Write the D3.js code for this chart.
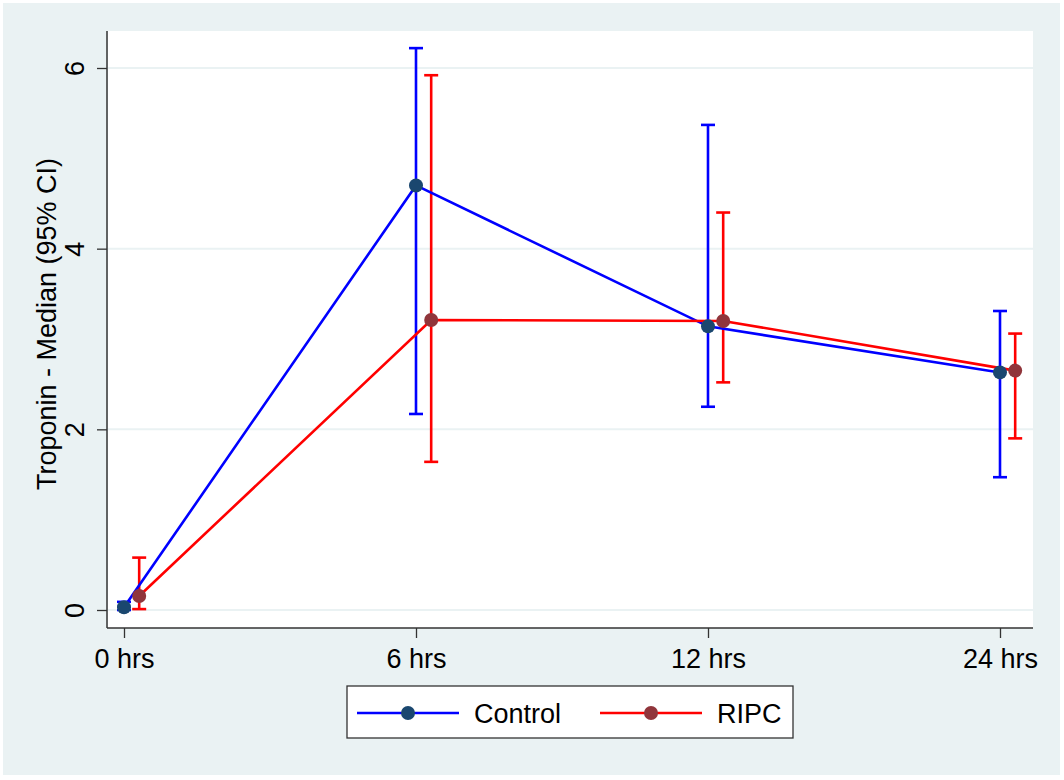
<!DOCTYPE html>
<html><head><meta charset="utf-8">
<script src="https://cdn.jsdelivr.net/npm/d3@7"></script>
<style>body{margin:0;background:#fff}svg{display:block}text{font-family:"Liberation Sans",Arial,sans-serif}</style>
</head><body>
<script>
const categories = ["0 hrs","6 hrs","12 hrs","24 hrs"];
const yTicks = [0,2,4,6];
const controlMedian = [0.03, 4.70, 3.14, 2.63];
const controlLow    = [0.00, 2.17, 2.25, 1.47];
const controlHigh   = [0.09, 6.22, 5.37, 3.31];
const ripcMedian = [0.155, 3.21, 3.20, 2.65];
const ripcLow    = [0.01, 1.64, 2.52, 1.90];
const ripcHigh   = [0.58, 5.92, 4.40, 3.06];
const seriesNames = ["Control","RIPC"];

const W=1064,H=780;
const svg=d3.select("body").append("svg").attr("width",W).attr("height",H);
svg.append("rect").attr("x",3).attr("y",3).attr("width",1057).attr("height",772).attr("fill","#eaf2f3");
const L=108,R=1033,T=31,B=628;
svg.append("rect").attr("x",L).attr("y",T).attr("width",R-L).attr("height",B-T).attr("fill","#fff");

const x=d3.scaleLinear().domain([0,3]).range([124,1000]);
const y=d3.scaleLinear().domain([0,6]).range([610,68]);
const offset=0.052;

// gridlines
svg.append("g").selectAll("line").data(yTicks).join("line")
 .attr("x1",L).attr("x2",R).attr("y1",d=>y(d)).attr("y2",d=>y(d))
 .attr("stroke","#eaf2f3").attr("stroke-width",2);

// axes
const yAxis=svg.append("g").attr("transform",`translate(${L-1},0)`)
 .call(d3.axisLeft(y).tickValues(yTicks).tickSize(10).tickPadding(0).tickFormat(d3.format("d")));
yAxis.select(".domain").attr("d",`M0,${T}V${B}`).attr("stroke","#333").attr("stroke-width",1.5);
yAxis.selectAll(".tick line").attr("stroke","#333").attr("stroke-width",1.3);
yAxis.selectAll(".tick text").attr("font-size",27).attr("fill","#000")
 .attr("transform","rotate(-90)").attr("x",0).attr("y",-23).attr("dy","0").attr("text-anchor","middle");

const xAxis=svg.append("g").attr("transform",`translate(0,${B})`)
 .call(d3.axisBottom(x).tickValues([0,1,2,3]).tickSize(10).tickPadding(10).tickFormat(i=>categories[i]));
xAxis.select(".domain").attr("d",`M${L-1},0H${R}`).attr("stroke","#333").attr("stroke-width",1.5);
xAxis.selectAll(".tick line").attr("stroke","#333").attr("stroke-width",1.3);
xAxis.selectAll(".tick text").attr("font-size",27).attr("fill","#000").attr("y",40).attr("dy","0");

svg.append("text").attr("transform",`translate(56,324) rotate(-90)`)
 .attr("text-anchor","middle").attr("font-size",27).text("Troponin - Median (95% CI)");

const series=[
 {name:seriesNames[0],med:controlMedian,lo:controlLow,hi:controlHigh,off:0,line:"#0000ff",mark:"#1a476f"},
 {name:seriesNames[1],med:ripcMedian,lo:ripcLow,hi:ripcHigh,off:offset,line:"#ff0000",mark:"#90353b"}
];
const line=d3.line().x(d=>d[0]).y(d=>d[1]);
series.forEach(s=>{
 const g=svg.append("g");
 s.med.forEach((m,i)=>{
  const cx=x(i+s.off);
  g.append("line").attr("x1",cx).attr("x2",cx).attr("y1",y(s.lo[i])).attr("y2",y(s.hi[i])).attr("stroke",s.line).attr("stroke-width",2.6);
  [s.lo[i],s.hi[i]].forEach(v=>g.append("line").attr("x1",cx-7).attr("x2",cx+7).attr("y1",y(v)).attr("y2",y(v)).attr("stroke",s.line).attr("stroke-width",2.6));
 });
});
series.forEach(s=>{
 svg.append("path").attr("d",line(s.med.map((m,i)=>[x(i+s.off),y(m)]))).attr("fill","none").attr("stroke",s.line).attr("stroke-width",2.6);
});
series.forEach(s=>{
 svg.append("g").selectAll("circle").data(s.med).join("circle")
  .attr("cx",(d,i)=>x(i+s.off)).attr("cy",d=>y(d)).attr("r",7).attr("fill",s.mark);
});

// legend
const lg=svg.append("g");
lg.append("rect").attr("x",347).attr("y",686).attr("width",446).attr("height",52).attr("fill","#fff").attr("stroke","#333").attr("stroke-width",1.3);
const lx=[357,600];
series.forEach((s,i)=>{
 lg.append("line").attr("x1",lx[i]).attr("x2",lx[i]+102).attr("y1",713).attr("y2",713).attr("stroke",s.line).attr("stroke-width",2.6);
 lg.append("circle").attr("cx",lx[i]+51).attr("cy",713).attr("r",7).attr("fill",s.mark);
 lg.append("text").attr("x",lx[i]+117).attr("y",723).attr("font-size",27).text(s.name);
});
</script>
</body></html>
